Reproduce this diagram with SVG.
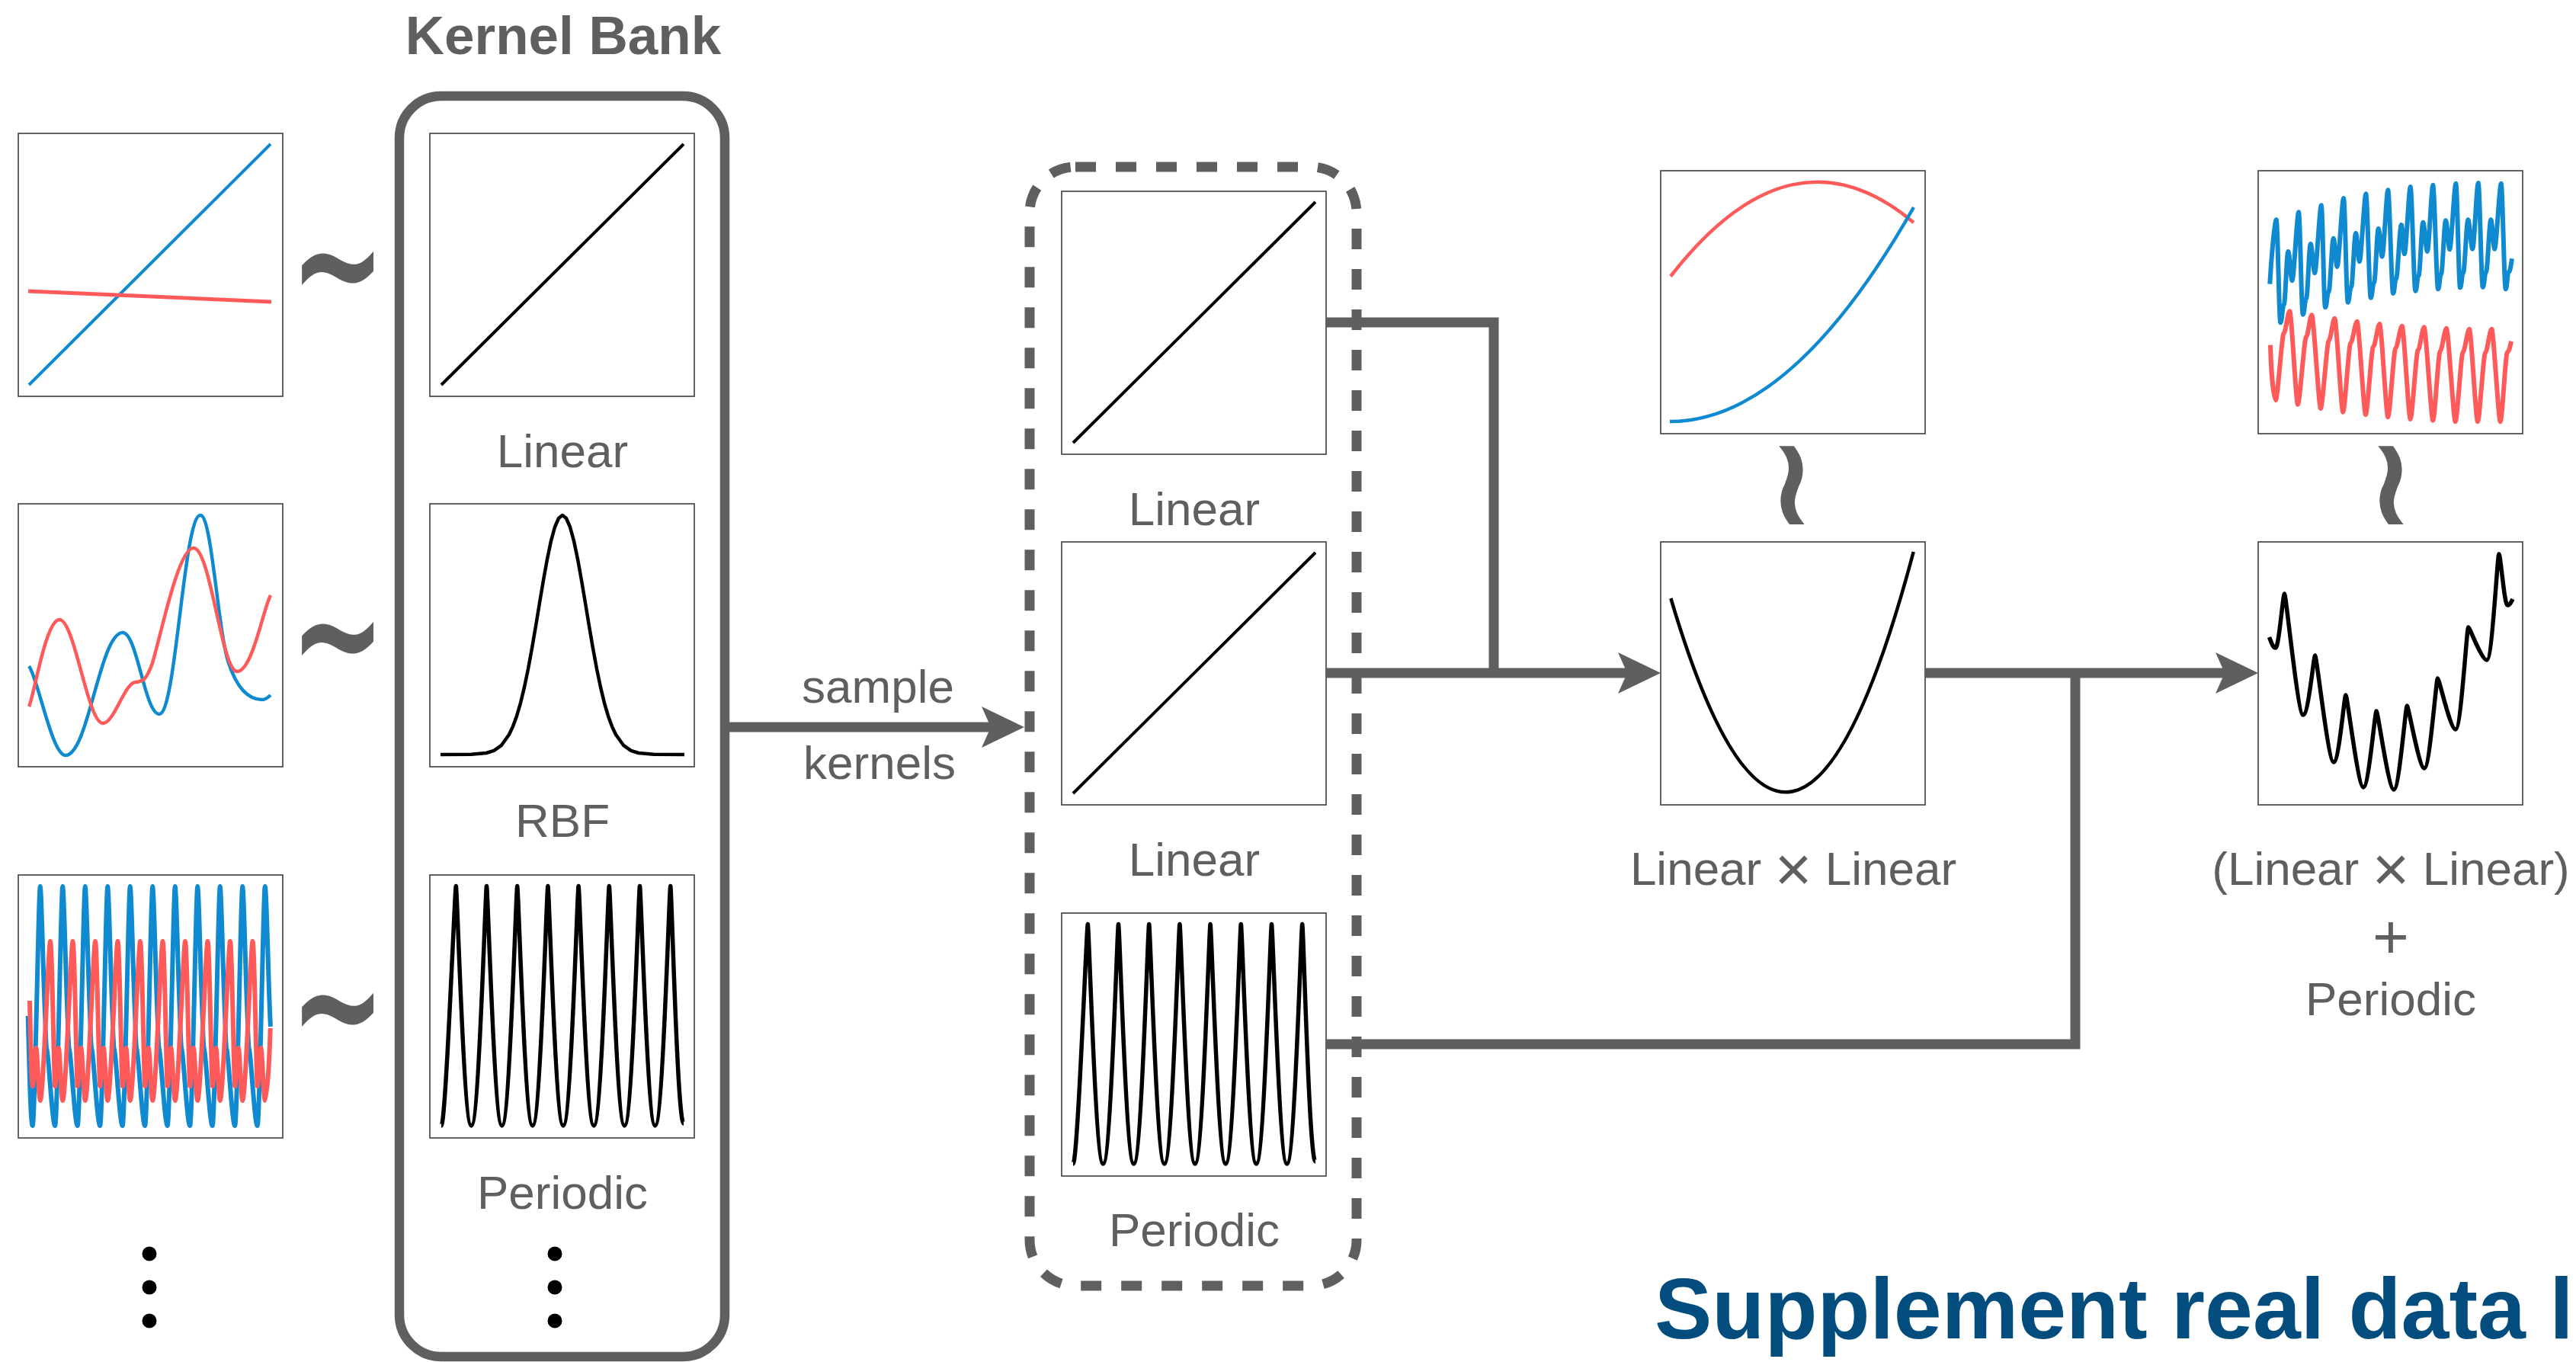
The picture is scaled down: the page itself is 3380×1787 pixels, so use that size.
<svg xmlns="http://www.w3.org/2000/svg" width="3380" height="1787" viewBox="0 0 3380 1787">
<style>
.lbl{font-family:"Liberation Sans",Arial,sans-serif;font-size:62px;fill:#5f5f5f;text-anchor:middle}
.ttl{font-family:"Liberation Sans",Arial,sans-serif;font-weight:bold;font-size:71px;fill:#5f5f5f;text-anchor:middle}
.cap{font-family:"Liberation Sans",Arial,sans-serif;font-weight:bold;font-size:113px;fill:#024c7e}
.frame{fill:#fff;stroke:#3c3c3c;stroke-width:1.6}
.k{fill:none;stroke:#000;stroke-width:4.5;stroke-linejoin:round}
.b{fill:none;stroke:#0f89d0;stroke-linejoin:round}
.r{fill:none;stroke:#ff5a5a;stroke-linejoin:round}
.conn{fill:none;stroke:#5f5f5f;stroke-width:13}
.box{fill:none;stroke:#5f5f5f;stroke-width:12.5}
.dash{fill:none;stroke:#5f5f5f;stroke-width:13;stroke-dasharray:27 26}
.sym{font-family:"DejaVu Sans",sans-serif;font-weight:bold;fill:#5f5f5f;text-anchor:middle}
.wr{font-family:"DejaVu Sans",sans-serif;font-weight:bold;fill:#5f5f5f;text-anchor:middle;font-size:164px}
.dot{fill:#000}
</style>
<defs>
<marker id="ah" markerUnits="userSpaceOnUse" markerWidth="56" markerHeight="56" viewBox="0 0 56 56" refX="12" refY="28" orient="auto">
<path d="M0,1 L56,28 L0,55 L12,28 z" fill="#5f5f5f"/>
</marker>
<path id="linC" d="M15,330 L333,14"/>
<path id="rbfC" d="M14,329 L54,328.8 74,327 84,323.8 94,316.8 104,302.8 109,292.1 114,278.4 119,261.3 124,240.6 129,216.6 134,189.5 139,160.3 144,130 149,100.3 154,72.7 159,48.8 164,30.5 169,19 174,15 179,19 184,30.5 189,48.8 194,72.7 199,100.3 204,130 209,160.3 214,189.5 219,216.6 224,240.6 229,261.3 234,278.4 239,292.1 244,302.8 254,316.8 264,323.8 274,327 294,328.8 334,329"/>
<path id="perC" d="M15,329 c6,0 17.8,-314.5 19.3,-314.5 s10.1,314.5 20.1,314.5 s18.6,-314.5 20.1,-314.5 s10.1,314.5 20.1,314.5 s18.6,-314.5 20.1,-314.5 s10.1,314.5 20.1,314.5 s18.6,-314.5 20.1,-314.5 s10.1,314.5 20.1,314.5 s18.6,-314.5 20.1,-314.5 s10.1,314.5 20.1,314.5 s18.6,-314.5 20.1,-314.5 s10.1,314.5 20.1,314.5 s18.6,-314.5 20.1,-314.5 s10.1,314.5 20.1,314.5 s18.6,-314.5 20.1,-314.5 s9,311.5 17.3,311.5"/>
</defs>
<rect width="3380" height="1787" fill="#fff"/>

<!-- Kernel bank -->
<g id="kernel-bank">
<rect class="box" x="524" y="126" width="427" height="1654" rx="55"/>
<text class="ttl" x="739" y="71">Kernel Bank</text>
<g transform="translate(564,175)"><rect class="frame" width="347" height="345"/><use href="#linC" class="k" style="stroke-width:4"/></g>
<text class="lbl" x="738" y="613">Linear</text>
<g transform="translate(564,661)"><rect class="frame" width="347" height="345"/><use href="#rbfC" class="k"/></g>
<text class="lbl" x="738" y="1098">RBF</text>
<g transform="translate(564,1148)"><rect class="frame" width="347" height="345"/><use href="#perC" class="k" style="stroke-width:5.5"/></g>
<text class="lbl" x="738" y="1586">Periodic</text>
<circle class="dot" cx="728" cy="1645" r="9.5"/>
<circle class="dot" cx="728" cy="1689" r="9.5"/>
<circle class="dot" cx="728" cy="1733" r="9.5"/>
</g>

<!-- GP samples (left) -->
<g id="samples-linear">
<rect class="frame" x="24" y="175" width="347" height="345"/>
<path class="b" style="stroke-width:4" d="M38,505 L355,189"/>
<path class="r" style="stroke-width:5" d="M37,382 L356,396"/>
</g>
<g id="samples-rbf">
<rect class="frame" x="24" y="661" width="347" height="345"/>
<path class="b" style="stroke-width:4.5" d="M38,874 C50,890 68,991 86,991 C116,991 131,830 161,830 C180,830 190,937 209,937 C231,937 241,676 263,676 C278,676 286,830 300,870 C310,900 325,918 344,918 C349,918 352,915 355,912"/>
<path class="r" style="stroke-width:4.5" d="M38,927 C45,912 60,813 78,813 C98,813 115,949 135,949 C150,949 163,896 178,895 C188,894 192,892 200,870 C212,830 234,719 254,719 C276,719 291,881 311,881 C331,881 345,800 355,781"/>
</g>
<g id="samples-periodic">
<rect class="frame" x="24" y="1148" width="347" height="345"/>
<path class="b" style="stroke-width:6" d="M36.7,1333 C38,1380 40,1477 42.7,1477 c3,0 8,-314 10,-314 c2,0 6,210 9,214 c1.5,2 7,100 10.5,100 c3,0 8,-314 10,-314 c2,0 6,210 9,214 c1.5,2 7,100 10.5,100 c3,0 8,-314 10,-314 c2,0 6,210 9,214 c1.5,2 7,100 10.5,100 c3,0 8,-314 10,-314 c2,0 6,210 9,214 c1.5,2 7,100 10.5,100 c3,0 8,-314 10,-314 c2,0 6,210 9,214 c1.5,2 7,100 10.5,100 c3,0 8,-314 10,-314 c2,0 6,210 9,214 c1.5,2 7,100 10.5,100 c3,0 8,-314 10,-314 c2,0 6,210 9,214 c1.5,2 7,100 10.5,100 c3,0 8,-314 10,-314 c2,0 6,210 9,214 c1.5,2 7,100 10.5,100 c3,0 8,-314 10,-314 c2,0 6,210 9,214 c1.5,2 7,100 10.5,100 c3,0 8,-314 10,-314 c2,0 6,210 9,214 c1.5,2 7,100 10.5,100 c3,0 8,-314 10,-314 c2,0 5,150 7.3,184"/>
<path class="r" style="stroke-width:6" d="M39,1313 C40,1360 41.5,1425 42.7,1425 c1.5,0 3,-50 4.7,-50 c1.5,0 3.5,69 5.3,69 c4,0 11,-209 13.3,-209 c2.3,0 5,190 6.2,190 c1.5,0 3,-50 4.7,-50 c1.5,0 3.5,69 5.3,69 c4,0 11,-209 13.3,-209 c2.3,0 5,190 6.2,190 c1.5,0 3,-50 4.7,-50 c1.5,0 3.5,69 5.3,69 c4,0 11,-209 13.3,-209 c2.3,0 5,190 6.2,190 c1.5,0 3,-50 4.7,-50 c1.5,0 3.5,69 5.3,69 c4,0 11,-209 13.3,-209 c2.3,0 5,190 6.2,190 c1.5,0 3,-50 4.7,-50 c1.5,0 3.5,69 5.3,69 c4,0 11,-209 13.3,-209 c2.3,0 5,190 6.2,190 c1.5,0 3,-50 4.7,-50 c1.5,0 3.5,69 5.3,69 c4,0 11,-209 13.3,-209 c2.3,0 5,190 6.2,190 c1.5,0 3,-50 4.7,-50 c1.5,0 3.5,69 5.3,69 c4,0 11,-209 13.3,-209 c2.3,0 5,190 6.2,190 c1.5,0 3,-50 4.7,-50 c1.5,0 3.5,69 5.3,69 c4,0 11,-209 13.3,-209 c2.3,0 5,190 6.2,190 c1.5,0 3,-50 4.7,-50 c1.5,0 3.5,69 5.3,69 c4,0 11,-209 13.3,-209 c2.3,0 5,190 6.2,190 c1.5,0 3,-50 4.7,-50 c1.5,0 3.5,69 5.3,69 c4,0 11,-209 13.3,-209 c2.3,0 5,190 6.2,190 c1.5,0 3,-50 4.7,-50 c1.5,0 3.5,69 5.3,69 c3,0 6,-60 7,-95"/>
</g>
<g id="more-samples">
<circle class="dot" cx="196" cy="1645" r="9.5"/>
<circle class="dot" cx="196" cy="1689" r="9.5"/>
<circle class="dot" cx="196" cy="1733" r="9.5"/>
</g>
<g id="tildes">
<text class="sym" font-size="150" transform="translate(443,347) scale(1,1.45)" x="0" y="50">∼</text>
<text class="sym" font-size="150" transform="translate(443,833) scale(1,1.45)" x="0" y="50">∼</text>
<text class="sym" font-size="150" transform="translate(443,1320) scale(1,1.45)" x="0" y="50">∼</text>
</g>

<!-- Sampled kernels -->
<g id="sampled-kernels">
<rect class="dash" x="1351" y="219" width="429" height="1468" rx="60"/>
<g transform="translate(1393,251)"><rect class="frame" width="347" height="345"/><use href="#linC" class="k" style="stroke-width:4"/></g>
<text class="lbl" x="1567" y="689">Linear</text>
<g transform="translate(1393,711)"><rect class="frame" width="347" height="345"/><use href="#linC" class="k" style="stroke-width:4"/></g>
<text class="lbl" x="1567" y="1149">Linear</text>
<g transform="translate(1393,1198)"><rect class="frame" width="347" height="345"/><use href="#perC" class="k" style="stroke-width:5.5"/></g>
<text class="lbl" x="1567" y="1635">Periodic</text>
</g>
<g id="sample-kernels-label">
<text class="lbl" x="1152" y="922">sample</text>
<text class="lbl" x="1154" y="1022">kernels</text>
</g>

<!-- Product kernel -->
<g id="product-kernel">
<rect class="frame" x="2179" y="224" width="347" height="345"/>
<path class="r" style="stroke-width:4.5" d="M2192,362.5 Q2351.5,157.5 2511,292"/>
<path class="b" style="stroke-width:4.5" d="M2191,553 Q2351,553 2511,272"/>
<text class="wr" x="2351" y="688">≀</text>
<rect class="frame" x="2179" y="711" width="347" height="345"/>
<path class="k" d="M2192.3,785 Q2351.5,1322.5 2510.7,724"/>
<text class="lbl" x="2353" y="1161">Linear <tspan font-size="84" dy="8">×</tspan><tspan dy="-8"> Linear</tspan></text>
</g>

<!-- Sum kernel -->
<g id="sum-kernel">
<rect class="frame" x="2963" y="224" width="347" height="345"/>
<path class="b" style="stroke-width:6" d="M2978.3,372.7 C2980,340 2984.7,288.3 2986.7,288.3 S2990.3,423.3 2992.3,423.3 S2994.7,400 2996.7,400 S3000.3,330 3002.3,330 S3005.7,368.3 3007.7,368.3 S3014,278.3 3016,278.3 S3019.7,412.7 3021.7,412.7 S3024,392 3026,392 S3029.7,320 3031.7,320 S3035.3,358.3 3037.3,358.3 S3043.7,269.3 3045.7,269.3 S3049,403.3 3051,403.3 S3053.5,383 3055.5,383 S3059.7,312.7 3061.7,312.7 S3064.7,350 3066.7,350 S3073,260 3075,260 S3078.7,396.7 3080.7,396.7 S3083,377 3085,377 S3089,306 3091,306 S3094,343.3 3096,343.3 S3102.3,254.3 3104.3,254.3 S3108.7,390.7 3110.7,390.7 S3113,371 3115,371 S3118.7,300 3120.7,300 S3123.7,336.7 3125.7,336.7 S3131.3,249.3 3133.3,249.3 S3138,385 3140,385 S3142,366 3144,366 S3148.7,295 3150.7,295 S3153,333.3 3155,333.3 S3160.7,245 3162.7,245 S3167.3,381.7 3169.3,381.7 S3171.5,362 3173.5,362 S3177.3,291.7 3179.3,291.7 S3183,330 3185,330 S3190.3,242.7 3192.3,242.7 S3197,379.3 3199,379.3 S3201,360 3203,360 S3207,289.3 3209,289.3 S3212.3,327.3 3214.3,327.3 S3220.3,240.7 3222.3,240.7 S3226,377.3 3228,377.3 S3230,358 3232,358 S3236.3,288.3 3238.3,288.3 S3242.3,326.7 3244.3,326.7 S3249.7,240 3251.7,240 S3255.7,376.7 3257.7,376.7 S3260,357 3262,357 S3266.3,288.3 3268.3,288.3 S3271.3,326.7 3273.3,326.7 S3279.7,240.7 3281.7,240.7 S3285.7,379.3 3287.7,379.3 S3289.7,357 3291.7,357 S3295,345 3296,339.3"/>
<path class="r" style="stroke-width:6" d="M2979,452.7 C2980,490 2983.5,525 2986,525 S2994.2,436.7 2996.7,436.7 S3001.8,408.3 3004.3,408.3 S3012.5,530.7 3015,530.7 S3023.5,441.7 3026,441.7 S3030.8,413.3 3033.3,413.3 S3042.5,536 3045,536 S3053.2,446.7 3055.7,446.7 S3060.8,417.7 3063.3,417.7 S3071.8,540.7 3074.3,540.7 S3081.8,450 3084.3,450 S3090.2,421.7 3092.7,421.7 S3101.5,544 3104,544 S3111.5,455 3114,455 S3119.8,425 3122.3,425 S3130.8,547.3 3133.3,547.3 S3140.8,456.7 3143.3,456.7 S3149.2,427.7 3151.7,427.7 S3160.2,550 3162.7,550 S3170.2,459.3 3172.7,459.3 S3178.2,429.3 3180.7,429.3 S3189.8,551.7 3192.3,551.7 S3199.2,460.7 3201.7,460.7 S3207.5,430.7 3210,430.7 S3219.2,553.3 3221.7,553.3 S3229.2,461.7 3231.7,461.7 S3237.5,431.7 3240,431.7 S3248.5,553.3 3251,553.3 S3258.5,462.7 3261,462.7 S3266.8,431.7 3269.3,431.7 S3278.2,553.3 3280.7,553.3 S3287.5,461.7 3290,461.7 S3294,452 3295,447.7"/>
<text class="wr" x="3137" y="688">≀</text>
<rect class="frame" x="2963" y="711" width="347" height="345"/>
<path class="k" style="stroke-width:5.5" d="M2977.5,836 C2980,842 2982,850 2986,850 C2990,850 2995.5,779 2997.5,779 C2999.5,779 3015,938 3022,938 C3029,938 3035.7,860 3037.7,860 C3039.7,860 3055,1000 3062,1000 C3069,1000 3075.9,912 3077.9,912 C3079.9,912 3094,1033 3101,1033 C3108,1033 3116.1,933 3118.1,933 C3120.1,933 3134,1036 3141,1036 C3148,1036 3156.3,926 3158.3,926 C3160.3,926 3174,1008 3181,1008 C3188,1008 3196.5,890 3198.5,890 C3200.5,890 3215,957 3222,957 C3229,957 3236.7,823 3238.7,823 C3240.7,823 3256,866 3263,866 C3270,866 3276.9,727 3278.9,727 C3281,727 3286,794 3290,794 C3293,794 3295,790 3297,786"/>
<text class="lbl" x="3137" y="1161">(Linear <tspan font-size="84" dy="8">×</tspan><tspan dy="-8"> Linear)</tspan></text>
<text class="lbl" x="3137" y="1257" style="font-size:82px">+</text>
<text class="lbl" x="3137" y="1332">Periodic</text>
</g>

<!-- Connectors -->
<g id="connectors">
<path class="conn" d="M951,954 H1300" marker-end="url(#ah)"/>
<path class="conn" d="M1739,423 H1960 V883"/>
<path class="conn" d="M1739,883 H2135" marker-end="url(#ah)"/>
<path class="conn" d="M2525,883 H2919" marker-end="url(#ah)"/>
<path class="conn" d="M1739,1370 H2723 V883"/>
</g>

<text class="cap" x="2171" y="1756">Supplement real data l</text>
</svg>
